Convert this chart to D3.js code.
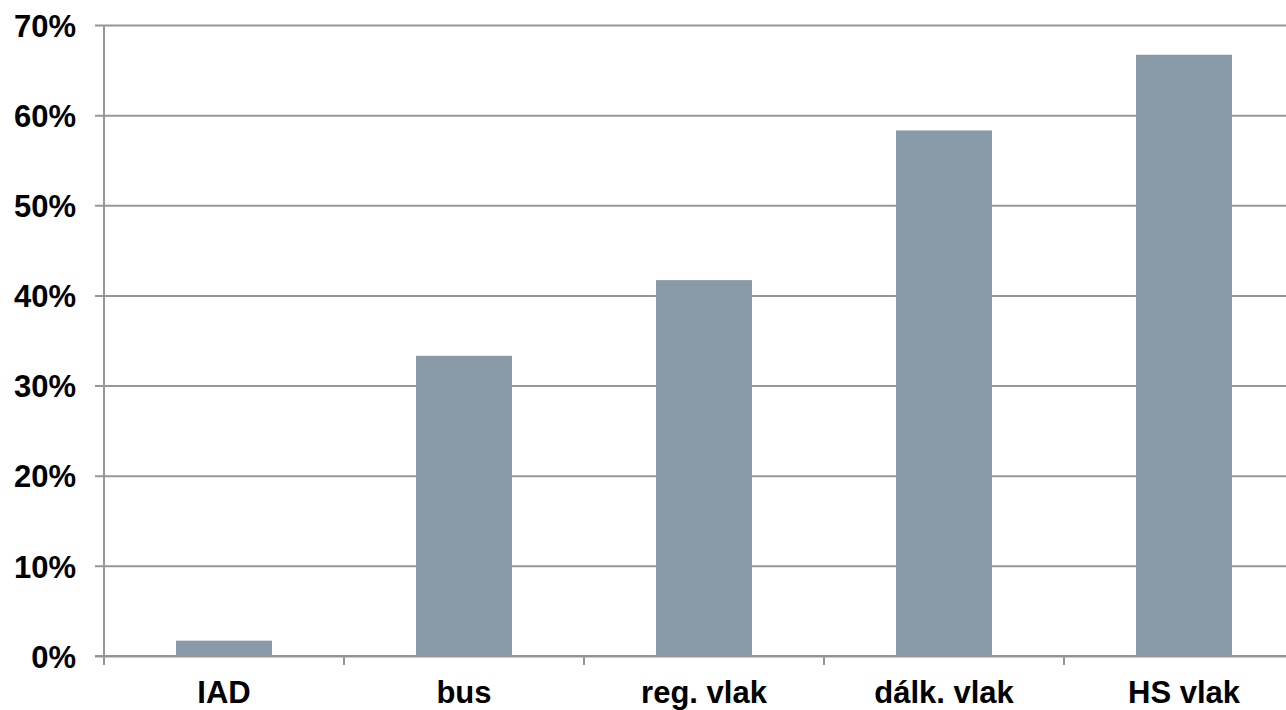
<!DOCTYPE html>
<html>
<head>
<meta charset="utf-8">
<script src="https://cdn.jsdelivr.net/npm/d3@7"></script>
<style>
  html, body { margin: 0; padding: 0; background: #fff; overflow: hidden; }
  svg { display: block; }
  text { font-family: "Liberation Sans", Arial, sans-serif; font-weight: bold; fill: #000; }
</style>
</head>
<body>
<svg id="chart" width="1286" height="710"></svg>
<script>
// Share by transport mode (percent)
const categories = ["IAD", "bus", "reg. vlak", "dálk. vlak", "HS vlak"];
const shares = [1.7, 33.3, 41.7, 58.3, 66.7];
const yTicks = [0, 10, 20, 30, 40, 50, 60, 70];

const svg = d3.select("#chart");

const plotLeft = 104, plotRight = 1304, plotTop = 25, plotBottom = 656;

const x = d3.scaleBand()
  .domain(categories)
  .range([plotLeft, plotRight])
  .paddingInner(0.6)
  .paddingOuter(0.3);

const y = d3.scaleLinear()
  .domain([0, 70])
  .range([plotBottom, plotTop]);

// Horizontal gridlines with percent labels
const yAxis = svg.append("g")
  .attr("transform", `translate(${plotLeft - 9},0)`)
  .call(d3.axisLeft(y)
    .tickValues(yTicks)
    .tickSizeInner(-(plotRight - plotLeft + 9))
    .tickSizeOuter(0)
    .tickPadding(19)
    .tickFormat(d => d + "%"));
yAxis.select(".domain").remove();
yAxis.selectAll(".tick line")
  .attr("stroke", "#969696")
  .attr("stroke-width", 2);
yAxis.selectAll(".tick text")
  .style("font-size", "31px")
  .attr("dy", "0.36em");

// Vertical axis line
svg.append("line")
  .attr("x1", plotLeft).attr("x2", plotLeft)
  .attr("y1", y(70)).attr("y2", plotBottom + 9)
  .attr("stroke", "#969696")
  .attr("stroke-width", 2);

// Bars
svg.append("g")
  .selectAll("rect")
  .data(shares)
  .join("rect")
  .attr("x", (d, i) => x(categories[i]))
  .attr("width", x.bandwidth())
  .attr("y", d => y(d))
  .attr("height", d => y(0) - y(d))
  .attr("fill", "#889aa8");

// Baseline redrawn above bars
svg.append("line")
  .attr("x1", plotLeft - 9).attr("x2", plotRight)
  .attr("y1", y(0)).attr("y2", y(0))
  .attr("stroke", "#969696")
  .attr("stroke-width", 2);

// Category separators on the baseline
const step = x.step();
const boundaries = categories.map(c => x(c) - (step - x.bandwidth()) / 2);
boundaries.push(boundaries[boundaries.length - 1] + step);
svg.append("g")
  .selectAll("line")
  .data(boundaries.slice(1))
  .join("line")
  .attr("x1", d => d).attr("x2", d => d)
  .attr("y1", y(0)).attr("y2", y(0) + 9)
  .attr("stroke", "#969696")
  .attr("stroke-width", 2);

// Category labels
const xAxis = svg.append("g")
  .attr("transform", `translate(0,${plotBottom})`)
  .call(d3.axisBottom(x).tickSize(0).tickPadding(0));
xAxis.select(".domain").remove();
xAxis.selectAll(".tick text")
  .style("font-size", "31px")
  .attr("y", 47)
  .attr("dy", 0);
</script>
</body>
</html>
